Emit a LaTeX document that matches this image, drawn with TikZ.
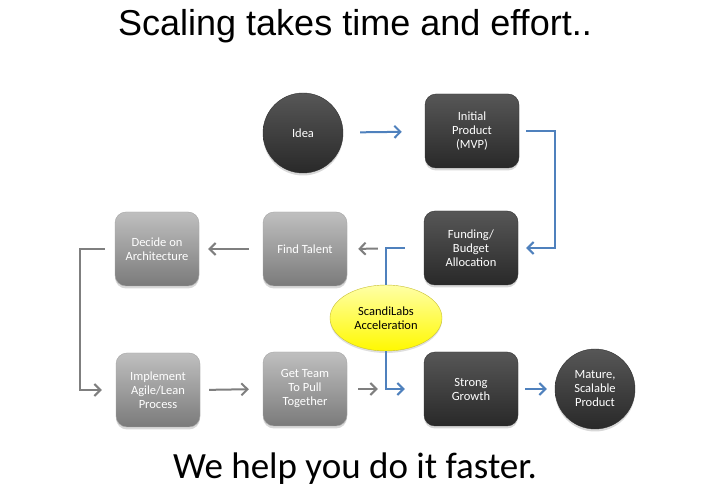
\documentclass[tikz,border=0pt]{standalone}
\usepackage{fontspec}
\setmainfont{Carlito}
\newfontfamily\titlefont{Liberation Sans}
\usepackage{xcolor}
\usetikzlibrary{arrows.meta, positioning, shapes.geometric, shadows}

\definecolor{flowblue}{HTML}{4F81BD}
\definecolor{flowgrey}{HTML}{7F7F7F}

\begin{document}
\begin{tikzpicture}[x=1pt, y=-1pt,
  stage/.style={rectangle, rounded corners=11pt, minimum width=94pt,
    minimum height=74pt, align=center, text=white, inner sep=2pt,
    font=\fontsize{12.5}{14}\selectfont,
    drop shadow={opacity=0.3, shadow xshift=0pt, shadow yshift=-2.5pt}},
  darkstage/.style={stage, draw=black!80, top color=black!66, bottom color=black!84},
  greystage/.style={stage, minimum width=84pt, draw=black!35,
    top color=black!25, bottom color=black!52},
  darkcirc/.style={darkstage, circle, minimum size=80pt, inner sep=0pt},
  accel/.style={ellipse, minimum width=112pt, minimum height=66pt, inner sep=0pt,
    align=center, draw=yellow!75!black, top color=yellow!35, bottom color=yellow!95!orange,
    font=\fontsize{12.5}{14}\selectfont,
    drop shadow={opacity=0.25, shadow xshift=0pt, shadow yshift=-2pt}},
  bluearr/.style={-{Straight Barb[length=6pt, width=12pt]}, line width=2pt, flowblue},
  blueline/.style={line width=2pt, flowblue},
  greyarr/.style={-{Straight Barb[length=6pt, width=12pt]}, line width=2pt, flowgrey},
  ptitle/.style={font=\titlefont\fontsize{36}{40}\selectfont},
  pfoot/.style={font=\fontsize{37}{40}\selectfont},
]
\useasboundingbox (0,0) rectangle (710,494);
\fill[white] (0,0) rectangle (710,494);
% ====== TITLES ======
\node[ptitle] (title) at (355,26) {Scaling takes time and effort..};
\node[pfoot] (foot) at (355,469) {We help you do it faster.};
%
% ====== TOP ROW ======
\node[darkcirc] (idea) at (303,133) {Idea};
\node[darkstage] (mvp) at (472,131) {Initial\\Product\\(MVP)};
%
% ====== MIDDLE ROW ======
\node[darkstage] (funding) at (471,248) {Funding/\\Budget\\Allocation};
\node[greystage] (talent) at (305,249) {Find Talent};
\node[greystage] (arch) at (157,249) {Decide on\\Architecture};
%
% ====== BOTTOM ROW ======
\node[greystage] (agile) at (158,390) {Implement\\Agile/Lean\\Process};
\node[greystage] (team) at (305,389) {Get Team\\To Pull\\Together};
\node[darkstage] (growth) at (471,389) {Strong\\Growth};
\node[darkcirc] (mature) at (595,389) {Mature,\\Scalable\\Product};
%
% ====== CONNECTORS ======
\coordinate (rbend) at (555,190);
\coordinate (lbend) at (80,320);
\draw[bluearr, shorten <=17pt, shorten >=23pt] (idea) -- (mvp);
\draw[bluearr, shorten <=7pt, shorten >=8pt] (mvp.east) -| (rbend) |- (funding.east);
\draw[greyarr, shorten <=46pt, shorten >=11pt] (funding.west) -- (talent.east);
\draw[greyarr, shorten <=14pt, shorten >=9pt] (talent.west) -- (arch.east);
\draw[greyarr, shorten <=10pt, shorten >=14pt] (arch.west) -| (lbend) |- (agile.west);
\draw[greyarr, shorten <=9pt, shorten >=14pt] (agile.east) -- (team.west);
\draw[greyarr, shorten <=11pt, shorten >=46pt] (team.east) -- (growth.west);
\draw[bluearr, shorten <=7pt, shorten >=8pt] (growth.east) -- (mature.west);
%
% ====== ACCELERATION ======
\node[accel] (scandi) at (386,318) {ScandiLabs\\Acceleration};
\draw[blueline, shorten <=19pt] (funding.west) -| (scandi.north);
\draw[bluearr, shorten >=19pt] (scandi.south) |- (growth.west);
\end{tikzpicture}
\end{document}
